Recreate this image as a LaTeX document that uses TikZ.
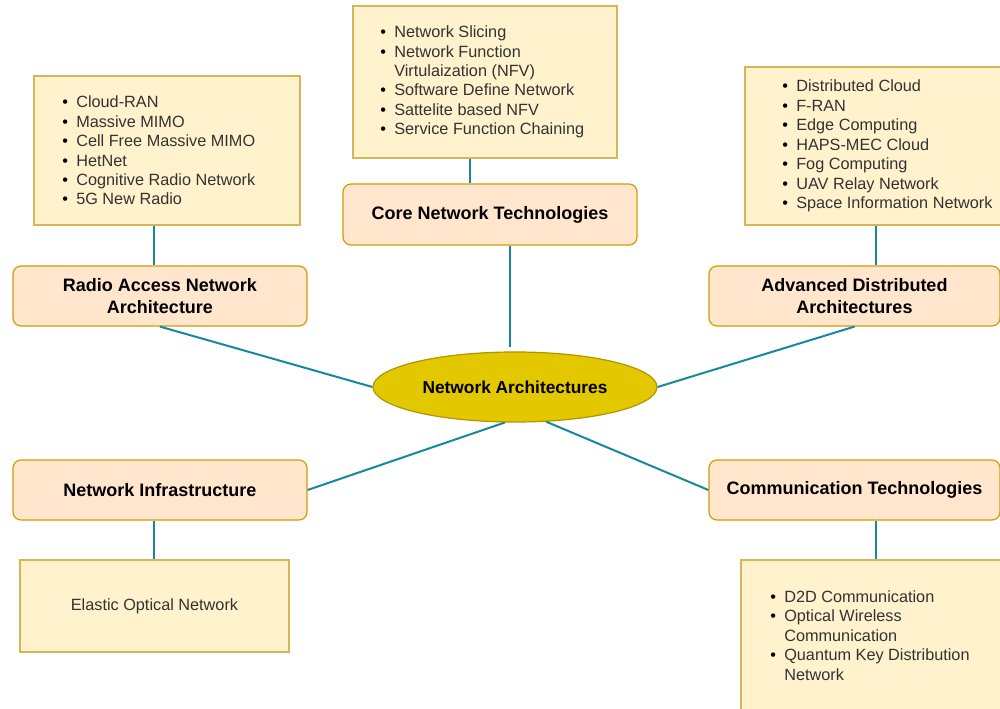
\documentclass[tikz,border=0pt]{standalone}
\usepackage{fontspec}
\setmainfont{Liberation Sans}
\usetikzlibrary{shapes.geometric}
\definecolor{listfill}{HTML}{FFF2CC}
\definecolor{liststroke}{HTML}{D6B656}
\definecolor{headfill}{HTML}{FFE6CC}
\definecolor{headstroke}{HTML}{D79B00}
\definecolor{ellfill}{HTML}{E3C800}
\definecolor{ellstroke}{HTML}{B09500}
\definecolor{edgecol}{RGB}{22,138,156}
\definecolor{listtext}{HTML}{333333}
\newcommand{\bul}{\makebox[10.5pt][l]{\textcolor{black}{•}}}
\newcommand{\ind}{\hspace*{10.5pt}}
\tikzset{
  listbox/.style={draw=liststroke, fill=listfill, line width=0.9pt, inner sep=0pt},
  headbox/.style={draw=headstroke, fill=headfill, line width=0.9pt, rounded corners=6pt, inner sep=0pt,
    align=center, font=\fontsize{13.5pt}{16.5pt}\selectfont\bfseries},
  listtxt/.style={anchor=west, inner sep=0pt, align=left, text=listtext,
    font=\fontsize{12.2pt}{14.6pt}\selectfont},
  edge/.style={draw=edgecol, line width=1.5pt},
}
\begin{document}
\begin{tikzpicture}[x=0.75pt,y=-0.75pt]
\useasboundingbox (0,0) rectangle (1000,709);
\fill[white] (0,0) rectangle (1000,709);

% list boxes
\node[listbox, minimum width={266*0.75pt}, minimum height={149*0.75pt}] (ranlist) at (167,150.5) {};
\node[listbox, minimum width={264*0.75pt}, minimum height={152*0.75pt}] (corelist) at (485,82) {};
\node[listbox, minimum width={266*0.75pt}, minimum height={158*0.75pt}] (adalist) at (878,146) {};
\node[listbox, minimum width={269*0.75pt}, minimum height={92*0.75pt}] (nilist) at (154.5,606) {};
\node[listbox, minimum width={270*0.75pt}, minimum height={151*0.75pt}] (ctlist) at (876,635.5) {};

% header boxes
\node[headbox, minimum width={294*0.75pt}, minimum height={60*0.75pt}] (ranhead) at (160,296) {Radio Access Network\\Architecture};
\node[headbox, minimum width={294*0.75pt}, minimum height={61*0.75pt}] (corehead) at (490,214.5) {Core Network Technologies};
\node[headbox, minimum width={291*0.75pt}, minimum height={60*0.75pt}] (adahead) at (854.5,296) {Advanced Distributed\\Architectures};
\node[headbox, minimum width={294*0.75pt}, minimum height={60*0.75pt}] (nihead) at (160,490) {Network Infrastructure};
\node[headbox, minimum width={291*0.75pt}, minimum height={60*0.75pt}] (cthead) at (854.5,490) {Communication Technologies};

% central ellipse
\node[ellipse, draw=ellstroke, fill=ellfill, line width=0.9pt, inner sep=0pt,
  minimum width={284*0.75pt}, minimum height={70*0.75pt},
  font=\fontsize{13pt}{16pt}\selectfont\bfseries] (ell) at (515,387) {Network Architectures};

% list texts
\node[listtxt] (rantxt) at (62,150.5) {\bul Cloud-RAN\\ \bul Massive MIMO\\ \bul Cell Free Massive MIMO\\ \bul HetNet\\ \bul Cognitive Radio Network\\ \bul 5G New Radio};
\node[listtxt] (coretxt) at (380,82) {\bul Network Slicing\\ \bul Network Function\\ \ind Virtulaization (NFV)\\ \bul Software Define Network\\ \bul Sattelite based NFV\\ \bul Service Function Chaining};
\node[listtxt] (adatxt) at (782,146) {\bul Distributed Cloud\\ \bul F-RAN\\ \bul Edge Computing\\ \bul HAPS-MEC Cloud\\ \bul Fog Computing\\ \bul UAV Relay Network\\ \bul Space Information Network};
\node[listtxt, anchor=center] (nitxt) at (nilist.center) {Elastic Optical Network};
\node[listtxt] (cttxt) at (770,635.5) {\bul D2D Communication\\ \bul Optical Wireless\\ \ind Communication\\ \bul Quantum Key Distribution\\ \ind Network};

% helper coordinates
\coordinate (x154) at (154,0);
\coordinate (x470) at (470,0);
\coordinate (x876) at (876,0);
\coordinate (coreend) at (510,347);

% connectors
\draw[edge] (ranlist.south -| x154) -- (ranhead.north -| x154);
\draw[edge] (corelist.south -| x470) -- (corehead.north -| x470);
\draw[edge] (adalist.south -| x876) -- (adahead.north -| x876);
\draw[edge] (nihead.south -| x154) -- (nilist.north -| x154);
\draw[edge] (cthead.south -| x876) -- (ctlist.north -| x876);
\draw[edge] (corehead.south -| coreend) -- (coreend);
\draw[edge] (ranhead.south) -- (ell.west);
\draw[edge] (adahead.south) -- (ell.east);
\draw[edge] (nihead.east) -- (ell.-106);
\draw[edge] (cthead.west) -- (ell.-48.6);
\end{tikzpicture}
\end{document}
